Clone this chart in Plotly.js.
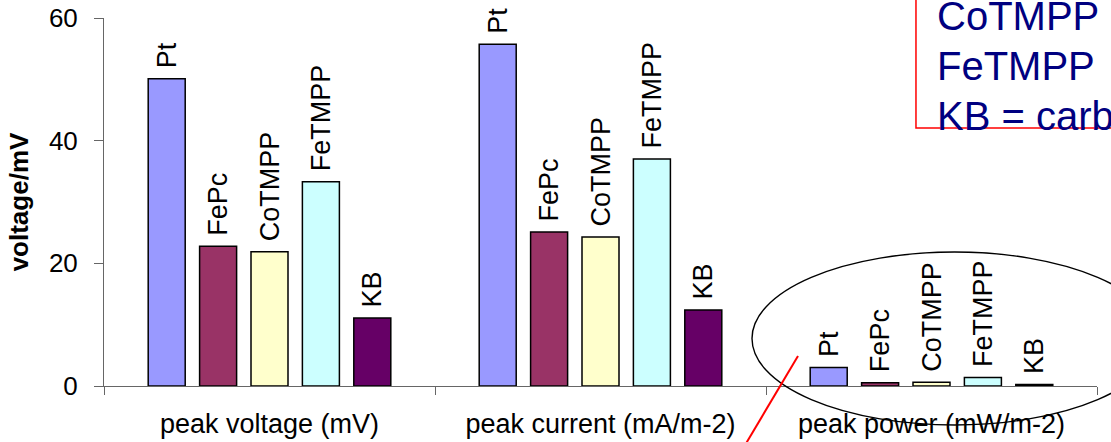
<!DOCTYPE html>
<html>
<head>
<meta charset="utf-8">
<script src="https://cdn.plot.ly/plotly-3.0.1.min.js"></script>
<style>html,body{margin:0;padding:0;background:#fff;}#chart{width:1111px;height:442px;}</style>
</head>
<body>
<div id="chart"></div>
<script>
// Data
const groups = ["peak voltage (mV)", "peak current (mA/m-2)", "peak power (mW/m-2)"];
const catalysts = ["Pt", "FePc", "CoTMPP", "FeTMPP", "KB"];
const ptValues = [50.1, 55.7, 3.0];
const fepcValues = [22.8, 25.1, 0.55];
const cotmppValues = [21.9, 24.3, 0.6];
const fetmppValues = [33.3, 37.0, 1.4];
const kbValues = [11.1, 12.4, 0.25];
const colors = ["#9999FF", "#993366", "#FFFFCC", "#CCFFFF", "#660066"];
const boxLines = ["CoTMPP", "FeTMPP", "KB = carb"];

const seriesValues = [ptValues, fepcValues, cotmppValues, fetmppValues, kbValues];
const FONT = "Liberation Sans, Arial, sans-serif";

const traces = catalysts.map((name, i) => ({
  type: "bar",
  name: name,
  x: groups,
  y: seriesValues[i],
  text: groups.map(() => "\u00a0" + name),
  textposition: "outside",
  textangle: -90,
  constraintext: "none",
  cliponaxis: false,
  textfont: {family: FONT, size: 27, color: "#000"},
  marker: {color: colors[i], line: {color: "#000", width: 1.5}},
  hoverinfo: "skip"
}));

const layout = {
  width: 1111, height: 442,
  margin: {l: 104, r: 14, t: 18, b: 56},
  paper_bgcolor: "#fff", plot_bgcolor: "#fff",
  showlegend: false,
  barmode: "group",
  bargap: 0.2236,
  bargroupgap: 0.28,
  font: {family: FONT, color: "#000"},
  xaxis: {
    type: "category",
    showline: true, linecolor: "#666", linewidth: 1,
    ticks: "outside", ticklen: 8, tickcolor: "#666", tickson: "boundaries",
    ticklabelstandoff: 14,
    tickfont: {family: FONT, size: 27, color: "#000"},
    showgrid: false, zeroline: false,
    fixedrange: true
  },
  yaxis: {
    range: [0, 60],
    tickvals: [0, 20, 40, 60],
    showline: true, linecolor: "#666", linewidth: 1,
    ticks: "outside", ticklen: 9, tickcolor: "#666",
    ticklabelstandoff: 11,
    tickfont: {family: FONT, size: 26, color: "#000"},
    showgrid: false, zeroline: false,
    title: {text: "voltage/mV", font: {family: FONT, size: 26, color: "#000", weight: "bold"}, standoff: 12},
    fixedrange: true
  },
  shapes: [
    {type: "rect", xref: "paper", yref: "paper", x0: 0.8177, x1: 1.2, y0: 0.701, y1: 1.2,
     line: {color: "#FF0000", width: 1.5}, fillcolor: "rgba(255,255,255,0)", layer: "above"},
    {type: "circle", xref: "paper", yref: "paper", x0: (752-104)/993, x1: (1157-104)/993,
     y0: (386-425)/368, y1: (386-252)/368, line: {color: "#000", width: 1.4}, layer: "above"},
    {type: "line", xref: "paper", yref: "paper", x0: (798-104)/993, y0: (386-356)/368,
     x1: (735-104)/993, y1: (386-462)/368, line: {color: "#FF0000", width: 2}, layer: "above"}
  ],
  annotations: boxLines.map((t, i) => ({
    text: t, xref: "paper", yref: "paper",
    x: (935-104)/993, y: (386-(16 + 50*i))/368,
    xanchor: "left", yanchor: "middle", showarrow: false, align: "left",
    font: {family: FONT, size: 40, color: "#000080"}
  }))
};

Plotly.newPlot("chart", traces, layout, {staticPlot: true, displayModeBar: false});
</script>
</body>
</html>
